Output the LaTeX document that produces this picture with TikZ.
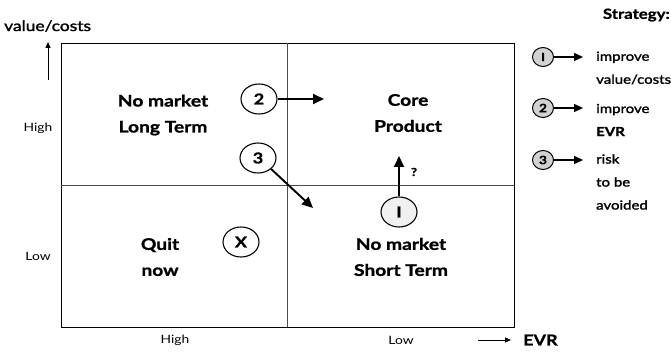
\documentclass[tikz,border=0pt]{standalone}
\usepackage{fontspec}
\setmainfont{Lato}[FakeStretch=1.2, BoldFeatures={FakeBold=1.2}]
\newfontfamily\semib{Lato}[FakeStretch=1.2,FakeBold=1.6]
\usetikzlibrary{shapes.geometric,arrows.meta}
\begin{document}
\begin{tikzpicture}[x=1pt,y=-1pt,
  quad/.style={font=\fontsize{16}{26}\selectfont\bfseries, align=center},
  axlab/.style={font=\fontsize{11.5}{13}\selectfont},
  num/.style={draw, line width=1.1pt, ellipse, minimum width=36pt, minimum height=30pt, inner sep=0pt, font=\fontsize{15}{15}\selectfont\bfseries},
  lnum/.style={draw, line width=1pt, ellipse, fill=gray!35, minimum width=21pt, minimum height=19pt, inner sep=0pt, font=\fontsize{11.5}{11.5}\selectfont\bfseries},
  legtxt/.style={font=\semib\fontsize{12.5}{23}\selectfont, align=left, anchor=west},
  bigarrow/.style={line width=1.9pt, -{Triangle[length=11pt,width=10pt]}},
  smallarrow/.style={line width=1.4pt, -{Triangle[length=9pt,width=8pt]}}
]
\useasboundingbox (0,0) rectangle (671,352);
% quadrant frame
\coordinate (TL) at (61,43);
\coordinate (BR) at (514,327);
\draw[line width=0.6pt] (TL) rectangle (BR);
\coordinate (MT) at (287,43);
\coordinate (MB) at (287,327);
\coordinate (ML) at (61,185);
\coordinate (MR) at (514,185);
\draw[line width=0.6pt, black!70] (MT) -- (MB);
\draw[line width=0.6pt, black!70] (ML) -- (MR);
% axis labels
\node[font=\semib\fontsize{14.5}{16}\selectfont, anchor=west, inner sep=0pt] (yl) at (4,26) {value/costs};
\coordinate (ya0) at (48,80);
\coordinate (ya1) at (48,42);
\draw[line width=1pt, -{Triangle[length=6pt,width=5pt]}] (ya0) -- (ya1);
\node[axlab] (hi1) at (38,128) {High};
\node[axlab] (lo1) at (38,256) {Low};
\node[axlab] (hi2) at (175,340) {High};
\node[axlab] (lo2) at (401,340) {Low};
\coordinate (xa0) at (478,340);
\coordinate (xa1) at (511,340);
\node[font=\fontsize{15}{16}\selectfont\bfseries, anchor=west, inner sep=0pt] (evr) at (523,340) {EVR};
\draw[line width=1pt, -{Triangle[length=6pt,width=5pt]}] (xa0) -- (xa1);
% quadrant texts
\node[quad] (q1) at (163,115) {No market\\Long Term};
\node[quad] (q2) at (408,113) {Core\\Product};
\node[quad] (q3) at (160,257) {Quit\\now};
\node[quad] (q4) at (401,257) {No market\\Short Term};
% numbered circles
\node[num] (c2) at (259,99) {2};
\coordinate (c2e) at (324,99);
\draw[bigarrow] (c2.east) -- (c2e);
\node[num] (c3) at (258,158) {3};
\coordinate (c3e) at (313,208);
\draw[bigarrow] (c3.south east) -- (c3e);
\node[num, fill=gray!12] (c1) at (399,212) {I};
\coordinate (c1e) at (399,156);
\draw[bigarrow] (c1.north) -- (c1e);
\node[font=\fontsize{11}{11}\selectfont\bfseries] (qm) at (414,172) {?};
\node[num] (cx) at (241,242) {X};
% legend
\node[font=\fontsize{14}{15}\selectfont\bfseries, anchor=east, inner sep=0pt] (strat) at (670,15) {Strategy:};
\node[lnum] (l1) at (543,57) {I};
\node[lnum] (l2) at (543,108) {2};
\node[lnum] (l3) at (543,160) {3};
\node[legtxt, inner sep=0pt] (t1) at (596,68) {improve\\value/costs};
\node[legtxt, inner sep=0pt] (t2) at (596,120) {improve\\\bfseries EVR};
\node[legtxt, inner sep=0pt] (t3) at (596,182) {risk\\to be\\avoided};
\coordinate (a1) at (583,57);
\coordinate (a2) at (583,108);
\coordinate (a3) at (583,160);
\draw[smallarrow] (l1.east) -- (a1);
\draw[smallarrow] (l2.east) -- (a2);
\draw[smallarrow] (l3.east) -- (a3);
\end{tikzpicture}
\end{document}
